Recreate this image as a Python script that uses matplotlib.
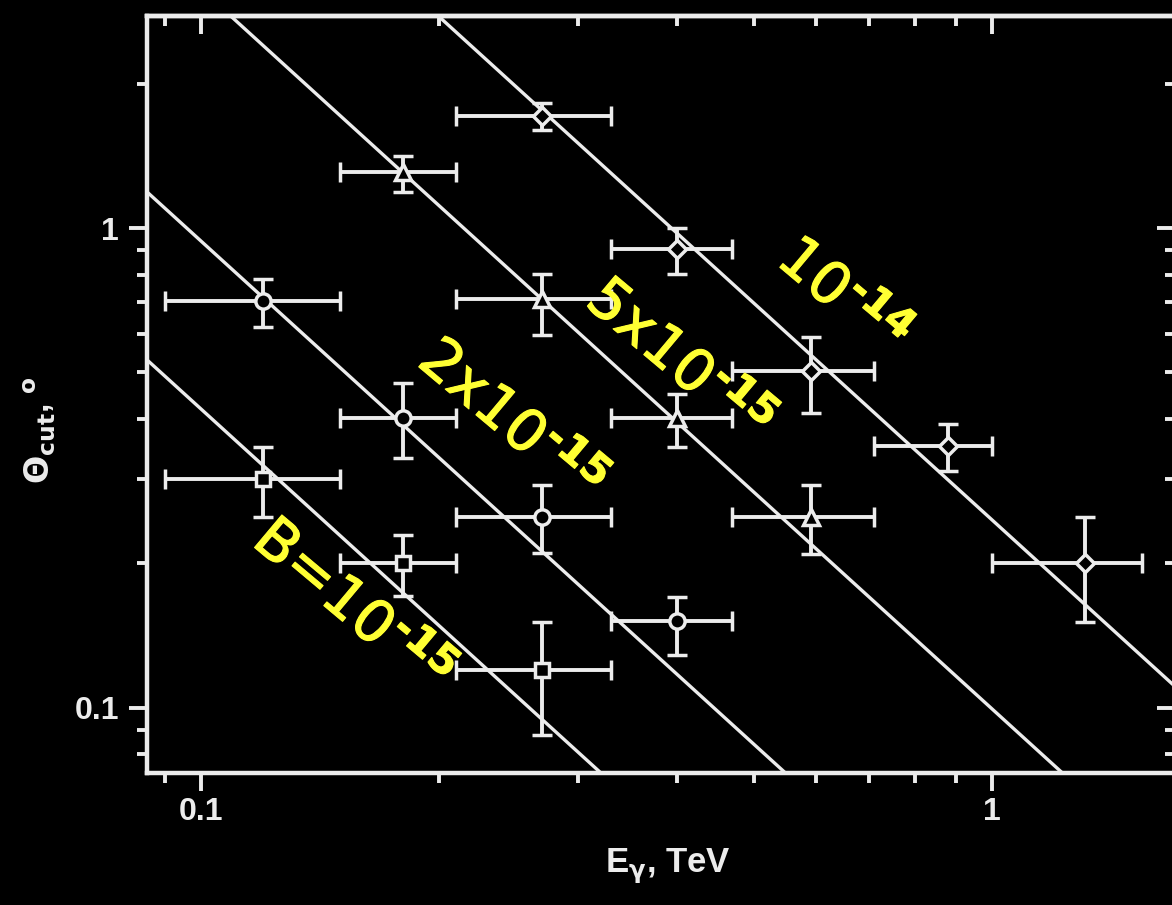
import numpy as np
import matplotlib
matplotlib.use("Agg")
import matplotlib.pyplot as plt
import matplotlib.patheffects as pe
from matplotlib import font_manager
from matplotlib.ticker import FixedLocator, FixedFormatter, LogLocator, NullFormatter

# ---------------- data ----------------
E_bin = [0.12, 0.18, 0.27, 0.40, 0.59, 0.88, 1.31]        # TeV, bin centres
E_lo = [0.09, 0.15, 0.21, 0.33, 0.47, 0.71, 1.00]         # bin lower edges
E_hi = [0.15, 0.21, 0.33, 0.47, 0.71, 1.00, 1.55]         # bin upper edges

# B = 1e-15 (squares)
sq_idx = [0, 1, 2]
sq_theta = [0.300, 0.200, 0.120]
sq_lo = [0.250, 0.171, 0.088]
sq_hi = [0.350, 0.229, 0.151]

# B = 2e-15 (circles)
ci_idx = [0, 1, 2, 3]
ci_theta = [0.705, 0.401, 0.250, 0.152]
ci_lo = [0.622, 0.331, 0.210, 0.129]
ci_hi = [0.784, 0.475, 0.291, 0.170]

# B = 5e-15 (triangles)
tr_idx = [1, 2, 3, 4]
tr_theta = [1.31, 0.711, 0.401, 0.250]
tr_lo = [1.19, 0.598, 0.349, 0.209]
tr_hi = [1.413, 0.802, 0.451, 0.291]

# B = 1e-14 (diamonds)
di_idx = [2, 3, 4, 5, 6]
di_theta = [1.71, 0.903, 0.504, 0.351, 0.200]
di_lo = [1.60, 0.802, 0.411, 0.311, 0.151]
di_hi = [1.82, 1.00, 0.592, 0.391, 0.250]

# model lines: theta = norm * (E / 0.1 TeV) ** slope
line_norm = [0.42, 0.94, 3.15, 7.8]
line_slope = -1.5

line_labels = ["B=10$^{\u201015}$", "2x10$^{\u201015}$", "5x10$^{\u201015}$", "10$^{\u201014}$"]
label_E = [0.155, 0.246, 0.401, 0.646]
label_theta = [0.162, 0.394, 0.526, 0.715]

x_ticks = [0.1, 1]
x_ticklabels = ["0.1", "1"]
y_ticks = [0.1, 1]
y_ticklabels = ["0.1", "1"]

# ---------------- style ----------------
names = {f.name for f in font_manager.fontManager.ttflist}
narrow = "Liberation Sans Narrow" if "Liberation Sans Narrow" in names else "Liberation Sans"
plt.rcParams["font.family"] = [narrow, "DejaVu Sans"]
plt.rcParams["font.weight"] = "bold"
plt.rcParams["mathtext.fontset"] = "dejavusans"

WHITE = "#ececec"
YELLOW = "#ffff33"

fig = plt.figure(figsize=(11.72, 9.05), dpi=100, facecolor="black")
ax = fig.add_axes([147 / 1172, 132 / 905, 1028 / 1172, 757 / 905])
ax.set_facecolor("black")
ax.set_xscale("log")
ax.set_yscale("log")
xlim = (0.0855, 1.704)
ax.set_xlim(*xlim)
ax.set_ylim(0.0732, 2.765)

# model lines
E_line = np.geomspace(xlim[0], xlim[1], 300)
for A in line_norm:
    ax.plot(E_line, A * (E_line / 0.1) ** line_slope, color=WHITE, lw=2.4, zorder=2)

def series(idx, th, lo, hi, marker, ms):
    e = np.array([E_bin[i] for i in idx])
    el = np.array([E_lo[i] for i in idx])
    eh = np.array([E_hi[i] for i in idx])
    th = np.array(th); lo = np.array(lo); hi = np.array(hi)
    ax.errorbar(e, th, xerr=[e - el, eh - e], yerr=[th - lo, hi - th],
                fmt=marker, ms=ms, mfc="black", mec=WHITE, mew=2.5,
                ecolor=WHITE, elinewidth=2.8, capsize=7, capthick=2.8, zorder=3)

series(sq_idx, sq_theta, sq_lo, sq_hi, "s", 10)
series(ci_idx, ci_theta, ci_lo, ci_hi, "o", 11)
series(tr_idx, tr_theta, tr_lo, tr_hi, "^", 11)
series(di_idx, di_theta, di_lo, di_hi, "D", 9.5)

for txt, xe, yt in zip(line_labels, label_E, label_theta):
    ax.text(xe, yt, txt, color=YELLOW, fontsize=42, family="DejaVu Sans",
            fontweight="normal", rotation=-40, rotation_mode="anchor",
            ha="center", va="center", zorder=4,
            path_effects=[pe.Stroke(linewidth=0.8, foreground=YELLOW), pe.Normal()])

# ticks
ax.xaxis.set_major_locator(FixedLocator(x_ticks))
ax.xaxis.set_major_formatter(FixedFormatter(x_ticklabels))
ax.xaxis.set_minor_locator(LogLocator(base=10, subs=np.arange(2, 10), numticks=30))
ax.xaxis.set_minor_formatter(NullFormatter())
ax.yaxis.set_major_locator(FixedLocator(y_ticks))
ax.yaxis.set_major_formatter(FixedFormatter(y_ticklabels))
ax.yaxis.set_minor_locator(LogLocator(base=10, subs=np.arange(2, 10), numticks=30))
ax.yaxis.set_minor_formatter(NullFormatter())
ax.tick_params(which="both", direction="out", colors=WHITE, width=2.8,
               labelsize=23, labelcolor=WHITE)
ax.tick_params(which="major", length=13)
ax.tick_params(which="minor", length=7)
ax.tick_params(axis="x", pad=4)
ax.tick_params(axis="y", pad=7)
for s in ax.spines.values():
    s.set_color(WHITE)
    s.set_linewidth(3.2)

secx = ax.secondary_xaxis("top")
secx.xaxis.set_major_locator(FixedLocator(x_ticks))
secx.xaxis.set_minor_locator(LogLocator(base=10, subs=np.arange(2, 10), numticks=30))
secx.xaxis.set_major_formatter(NullFormatter())
secx.xaxis.set_minor_formatter(NullFormatter())
secx.tick_params(which="both", direction="in", colors=WHITE, width=2.8)
secx.tick_params(which="major", length=13)
secx.tick_params(which="minor", length=7)

secy = ax.secondary_yaxis("right")
secy.yaxis.set_major_locator(FixedLocator(y_ticks))
secy.yaxis.set_minor_locator(LogLocator(base=10, subs=np.arange(2, 10), numticks=30))
secy.yaxis.set_major_formatter(NullFormatter())
secy.yaxis.set_minor_formatter(NullFormatter())
secy.tick_params(which="both", direction="in", colors=WHITE, width=2.8)
secy.tick_params(which="major", length=13)
secy.tick_params(which="minor", length=7)
for sa in (secx, secy):
    for s in sa.spines.values():
        s.set_color(WHITE)
        s.set_linewidth(3.2)

ax.set_xlabel(r"E$_{\mathbf{\gamma}}$, TeV", color=WHITE, fontsize=25, fontweight="bold")
ax.xaxis.set_label_coords(0.507, -0.097)
ax.set_ylabel(r"$\mathbf{\Theta_{cut}}$, $^{\mathbf{o}}$", color=WHITE, fontsize=24,
              fontweight="bold")
ax.yaxis.set_label_coords(-0.0866, 0.453)

fig.savefig("out.png", dpi=100, facecolor="black")
